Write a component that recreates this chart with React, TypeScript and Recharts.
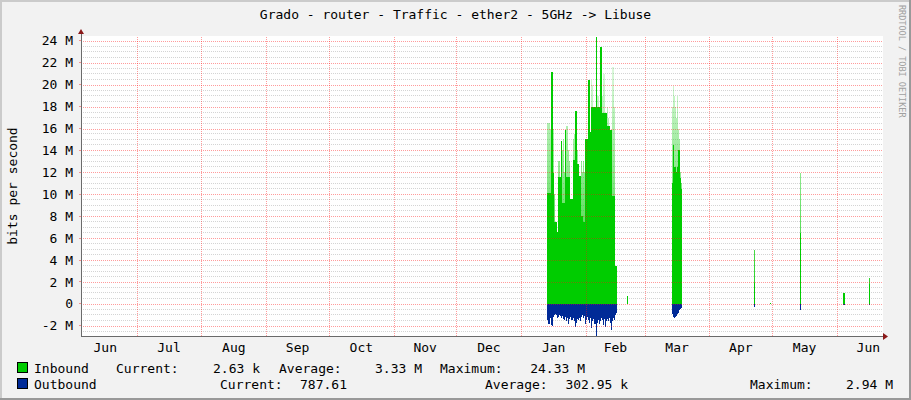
import React from 'react';
import { ComposedChart, Area, XAxis, YAxis, CartesianGrid, ReferenceLine } from 'recharts';

const FONT = "'DejaVu Sans Mono', monospace";
const TITLE = 'Grado - router - Traffic - ether2 - 5GHz -> Libuse';
const Y_LABEL = 'bits per second';
const WATERMARK = 'RRDTOOL / TOBI OETIKER';

// x axis: days counted from 1 June of the first year (half-day samples)
const STEP = 0.5;
const X_DOMAIN: [number, number] = [3.4, 387];
const monthStartDays = [30, 61, 92, 122, 153, 183, 214, 245, 273, 304, 334, 365];
const monthMidDays = [15, 45.5, 76.5, 107, 137.5, 168, 198.5, 229.5, 259, 288.5, 319, 349.5, 380];
const monthLabels = ['Jun', 'Jul', 'Aug', 'Sep', 'Oct', 'Nov', 'Dec', 'Jan', 'Feb', 'Mar', 'Apr', 'May', 'Jun'];

// y axis in Mbit/s
const Y_DOMAIN: [number, number] = [-2.93, 24.44];
const yMajorTicks = [-2, 0, 2, 4, 6, 8, 10, 12, 14, 16, 18, 20, 22, 24];
const yMinorTicks: number[] = [];
for (let v = -2.5; v <= 24.4; v += 0.5) {
  if (Math.abs(v % 2) > 1e-6) yMinorTicks.push(v);
}

// January - February block, starts at day 226.5
const janFebStart = 226.5;
const janFebIn = [
  10.1, 10.1, 10.1, 21.2, 21.2, 11.9, 7.5, 7.5, 7.5, 6.6,
  11.6, 11.6, 11.6, 14.9, 9.2, 9.2, 9.2, 15.9, 11.6, 11.6,
  11.6, 11.6, 9.6, 9.6, 13.1, 13.1, 17.6, 17.6, 12.8, 12.8,
  11.7, 11.7, 8.0, 8.0, 7.5, 7.5, 15.0, 15.0, 15.0, 20.4,
  20.4, 15.7, 18.0, 18.0, 18.0, 18.0, 24.33, 18.0, 18.0, 18.0,
  23.4, 23.4, 17.4, 17.4, 17.4, 17.4, 17.4, 16.2, 16.2, 16.2,
  15.9, 15.9, 9.8, 9.8, 9.8, 3.5, 3.5,
];
const janFebPeak = [
  16.5, 16.5, 16.0, 21.2, 21.2, 16.0, 10.0, 7.5, 7.5, 6.6,
  13.0, 13.0, 11.6, 14.9, 14.0, 15.0, 12.0, 15.9, 16.2, 16.2,
  14.0, 13.0, 9.6, 9.6, 15.0, 15.5, 17.6, 17.6, 14.0, 12.8,
  11.7, 11.7, 13.0, 12.0, 13.0, 12.0, 15.0, 15.0, 15.0, 20.4,
  20.4, 15.7, 20.4, 20.0, 18.0, 18.0, 24.33, 19.0, 19.0, 18.0,
  23.4, 23.4, 19.0, 21.0, 21.0, 17.4, 17.4, 18.0, 17.0, 16.2,
  15.9, 15.9, 21.6, 21.6, 18.0, 3.5, 3.5,
];
const janFebOut = [
  -1.5, -1.8, -1.3, -1.9, -2.0, -1.2, -1.0, -0.9, -1.0, -1.3,
  -1.2, -1.0, -1.1, -1.3, -1.1, -1.4, -1.5, -1.2, -1.6, -1.3,
  -1.8, -1.4, -1.2, -1.5, -1.3, -1.6, -2.1, -1.7, -1.4, -1.5,
  -1.3, -1.6, -1.2, -1.0, -1.3, -1.1, -1.8, -1.5, -1.2, -1.5,
  -1.7, -1.3, -2.2, -1.6, -1.4, -1.8, -2.94, -1.7, -1.5, -1.8,
  -1.6, -1.3, -1.5, -1.9, -1.4, -2.1, -1.6, -1.4, -1.6, -1.3,
  -1.7, -2.4, -1.6, -1.3, -1.5, -1.0, -0.8,
];

// March block, starts at day 286
const marchStart = 286;
const marchIn = [11.0, 14.5, 12.5, 12.5, 12.0, 12.5, 14.0, 14.0, 11.5, 10.5];
const marchPeak = [18.0, 19.9, 19.0, 18.0, 17.0, 19.0, 16.0, 15.0, 12.0, 11.0];
const marchOut = [-0.9, -1.2, -1.3, -1.2, -1.1, -0.9, -0.8, -0.6, -0.5, -0.4];

// isolated short bursts
const spikeDays = [264.5, 325.5, 333.0, 347.5, 368.0, 368.5, 380.5];
const spikeIn = [0.7, 1.9, 0.1, 6.5, 1.0, 1.0, 1.8];
const spikePeak = [0.7, 4.9, 0.1, 11.9, 1.0, 1.0, 2.4];
const spikeOut = [0, -0.25, 0, -0.55, -0.1, -0.1, -0.1];

type Row = { day: number; inbound: number; peak: number; outbound: number };

function buildRows(): Row[] {
  const map = new Map<number, Row>();
  const add = (day: number, i: number, p: number, o: number) =>
    map.set(day, { day, inbound: i, peak: Math.max(p, i), outbound: o });
  janFebIn.forEach((v, k) => add(janFebStart + k * STEP, v, janFebPeak[k], janFebOut[k]));
  marchIn.forEach((v, k) => add(marchStart + k * STEP, v, marchPeak[k], marchOut[k]));
  spikeDays.forEach((d, k) => add(d, spikeIn[k], spikePeak[k], spikeOut[k]));
  const keys = Array.from(map.keys());
  keys.forEach((d) => {
    if (!map.has(d + STEP)) add(d + STEP, 0, 0, 0);
  });
  add(X_DOMAIN[0], 0, 0, 0);
  add(X_DOMAIN[1], 0, 0, 0);
  return Array.from(map.values()).sort((a, b) => a.day - b.day);
}

const rows = buildRows();

const legendRow1 = [
  { t: 'Inbound', x: 34, a: 'start' },
  { t: 'Current:', x: 116, a: 'start' },
  { t: '2.63 k', x: 260, a: 'end' },
  { t: 'Average:', x: 279, a: 'start' },
  { t: '3.33 M', x: 422, a: 'end' },
  { t: 'Maximum:', x: 440, a: 'start' },
  { t: '24.33 M', x: 585, a: 'end' },
];
const legendRow2 = [
  { t: 'Outbound', x: 34, a: 'start' },
  { t: 'Current:', x: 220, a: 'start' },
  { t: '787.61', x: 347, a: 'end' },
  { t: 'Average:', x: 485, a: 'start' },
  { t: '302.95 k', x: 628, a: 'end' },
  { t: 'Maximum:', x: 750, a: 'start' },
  { t: '2.94 M', x: 893, a: 'end' },
];

const fmtY = (v: number) => (v === 0 ? '0' : `${v} M`);

const MINOR = '#D4D4D4';
const MAJOR = '#F39090';
const AXIS = '#6A6A6A';

// major grid line drawn from the endpoints Recharts computes from its scales
const MajorLine = (p: any) => {
  const x1 = Math.round(p.x1) + 0.5;
  const x2 = Math.round(p.x2) + 0.5;
  const y1 = Math.round(p.y1) + 0.5;
  const y2 = Math.round(p.y2) + 0.5;
  return (
    <line
      x1={p.x1 === p.x2 ? x1 : p.x1}
      x2={p.x1 === p.x2 ? x2 : p.x2}
      y1={p.y1 === p.y2 ? y1 : p.y1}
      y2={p.y1 === p.y2 ? y2 : p.y2}
      stroke="#FF1010"
      strokeOpacity={0.42}
      strokeWidth={1}
      strokeDasharray="1 1"
    />
  );
};

export default function App() {
  return (
    <div
      style={{
        position: 'absolute',
        left: 0,
        top: 0,
        width: 911,
        height: 400,
        background: '#F2F2F2',
        overflow: 'hidden',
      }}
    >
      {/* plot canvas */}
      <div style={{ position: 'absolute', left: 81, top: 36, width: 802, height: 300, background: '#FFFFFF' }} />
      <div style={{ position: 'absolute', left: 0, top: 0 }}>
        <ComposedChart
          width={911}
          height={400}
          data={rows}
          margin={{ top: 36, right: 28, bottom: 40, left: 0 }}
        >
          <defs>
            <linearGradient id="peakFade" x1="0" y1="0" x2="0" y2="1">
              <stop offset="0" stopColor="#00CC00" stopOpacity={0.05} />
              <stop offset="0.45" stopColor="#00CC00" stopOpacity={0.4} />
              <stop offset="1" stopColor="#00CC00" stopOpacity={0.9} />
            </linearGradient>
          </defs>
          <CartesianGrid
            vertical={false}
            horizontalValues={yMinorTicks}
            stroke={MINOR}
            strokeDasharray="1 1"
            shapeRendering="crispEdges"
          />
          <XAxis
            xAxisId={0}
            dataKey="day"
            type="number"
            domain={X_DOMAIN}
            ticks={monthStartDays}
            interval={0}
            allowDataOverflow
            tick={false}
            tickSize={3}
            tickLine={{ stroke: MAJOR, shapeRendering: 'crispEdges' }}
            axisLine={{ stroke: AXIS, shapeRendering: 'crispEdges' }}
            height={4}
          />
          <XAxis
            xAxisId="lab"
            dataKey="day"
            type="number"
            domain={X_DOMAIN}
            ticks={monthMidDays}
            interval={0}
            allowDataOverflow
            tickFormatter={(_v: number, i: number) => monthLabels[i]}
            axisLine={false}
            tickLine={false}
            tickSize={0}
            tickMargin={3}
            height={20}
            tick={{ fill: '#000000', fontSize: 13, fontFamily: FONT }}
          />
          <YAxis
            type="number"
            domain={Y_DOMAIN}
            ticks={yMajorTicks}
            interval={0}
            allowDataOverflow
            width={81}
            tickSize={2}
            tickMargin={6}
            tickFormatter={fmtY}
            tick={{ fill: '#000000', fontSize: 13, fontFamily: FONT }}
            tickLine={{ stroke: MAJOR, shapeRendering: 'crispEdges' }}
            axisLine={{ stroke: AXIS, shapeRendering: 'crispEdges' }}
          />
          <Area
            xAxisId={0}
            dataKey="peak"
            type="stepAfter"
            baseValue={0}
            fill="url(#peakFade)"
            fillOpacity={1}
            stroke="none"
            dot={false}
            activeDot={false}
            isAnimationActive={false}
            shapeRendering="crispEdges"
          />
          <Area
            xAxisId={0}
            dataKey="inbound"
            type="stepAfter"
            baseValue={0}
            fill="#00CC00"
            fillOpacity={1}
            stroke="none"
            dot={false}
            activeDot={false}
            isAnimationActive={false}
            shapeRendering="crispEdges"
          />
          <Area
            xAxisId={0}
            dataKey="outbound"
            type="stepAfter"
            baseValue={0}
            fill="#002A97"
            fillOpacity={1}
            stroke="none"
            dot={false}
            activeDot={false}
            isAnimationActive={false}
            shapeRendering="crispEdges"
          />
          {yMajorTicks.map((v) => (
            <ReferenceLine key={'ry' + v} y={v} shape={MajorLine} />
          ))}
          {monthStartDays.map((d) => (
            <ReferenceLine key={'rx' + d} x={d} shape={MajorLine} />
          ))}
        </ComposedChart>
      </div>
      <svg
        width={911}
        height={400}
        style={{ position: 'absolute', left: 0, top: 0, pointerEvents: 'none' }}
        fontFamily={FONT}
      >
        {/* 3D frame */}
        <rect x={0} y={0} width={911} height={2} fill="#CBCBCB" />
        <rect x={0} y={0} width={2} height={400} fill="#CBCBCB" />
        <rect x={0} y={398} width={911} height={2} fill="#999999" />
        <rect x={909} y={0} width={2} height={400} fill="#999999" />
        {/* axis arrows */}
        <line x1={81} y1={36} x2={81} y2={33} stroke={AXIS} shapeRendering="crispEdges" />
        <polygon points="78,34 84,34 81,29" fill="#8B1A1A" />
        <polygon points="883,333 883,340 888,336.5" fill="#8B1A1A" />
        {/* title */}
        <text x={455.5} y={14} textAnchor="middle" dominantBaseline="central" fontSize={13} fill="#000">
          {TITLE}
        </text>
        {/* vertical label */}
        <text
          x={0}
          y={0}
          transform="translate(12,186) rotate(-90)"
          textAnchor="middle"
          dominantBaseline="central"
          fontSize={13}
          fill="#000"
        >
          {Y_LABEL}
        </text>
        {/* watermark */}
        <text
          x={0}
          y={0}
          transform="translate(902,5) rotate(90)"
          textAnchor="start"
          dominantBaseline="central"
          fontSize={8.5}
          fill="#A0A0A0"
        >
          {WATERMARK}
        </text>
        {/* legend */}
        <rect x={17.5} y={362.5} width={10} height={10} fill="#00CC00" stroke="#000" />
        <rect x={17.5} y={378.5} width={10} height={10} fill="#002A97" stroke="#000" />
        {legendRow1.map((l, i) => (
          <text key={'a' + i} x={l.x} y={368} textAnchor={l.a as any} dominantBaseline="central" fontSize={13} fill="#000">
            {l.t}
          </text>
        ))}
        {legendRow2.map((l, i) => (
          <text key={'b' + i} x={l.x} y={384} textAnchor={l.a as any} dominantBaseline="central" fontSize={13} fill="#000">
            {l.t}
          </text>
        ))}
      </svg>
    </div>
  );
}
